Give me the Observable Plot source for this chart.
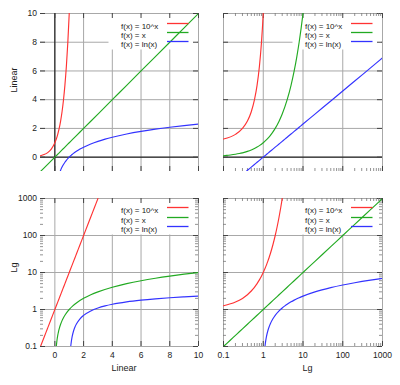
<!DOCTYPE html>
<html><head><meta charset="utf-8">
<script src="https://cdn.jsdelivr.net/npm/d3@7"></script>
<script src="https://cdn.jsdelivr.net/npm/@observablehq/plot@0.6"></script>
<style>
body{margin:0;background:#fff;}
#wrap{position:relative;width:400px;height:385px;overflow:hidden;font-family:"Liberation Sans",Arial,sans-serif;}
#wrap > svg{position:absolute;}
</style></head><body><div id="wrap"></div>
<script>
// ---- data ----
const pow10X = [-1,-0.75,-0.5,-0.25,0,0.1,0.2,0.3,0.4,0.5,0.6,0.7,0.8,0.9,1,1.1,1.2,1.3,1.4,1.5,1.75,2,2.25,2.5,2.75,3];
const pow10Y = [0.1,0.1778,0.3162,0.5623,1,1.2589,1.5849,1.9953,2.5119,3.1623,3.9811,5.0119,6.3096,7.9433,10,12.589,15.849,19.953,25.119,31.623,56.234,100,177.83,316.23,562.34,1000];
const identX = [-1,0,0.1,0.12,0.15,0.2,0.25,0.3,0.4,0.5,0.6,0.7,0.8,1,1.25,1.5,2,2.5,3,4,5,6,7,8,9,10,20,50,100,200,500,1000];
const identY = [-1,0,0.1,0.12,0.15,0.2,0.25,0.3,0.4,0.5,0.6,0.7,0.8,1,1.25,1.5,2,2.5,3,4,5,6,7,8,9,10,20,50,100,200,500,1000];
const lnX = [0.3679,0.4,0.45,0.5,0.6,0.7,0.8,0.9,1,1.105,1.11,1.12,1.15,1.2,1.3,1.4,1.5,1.75,2,2.5,3,3.5,4,5,6,7,8,9,10,20,50,100,200,500,1000];
const lnY = [-1,-0.9163,-0.7985,-0.6931,-0.5108,-0.3567,-0.2231,-0.1054,0,0.0998,0.1044,0.1133,0.1398,0.1823,0.2624,0.3365,0.4055,0.5596,0.6931,0.9163,1.0986,1.2528,1.3863,1.6094,1.7918,1.9459,2.0794,2.1972,2.3026,2.9957,3.9120,4.6052,5.2983,6.2146,6.9078];

const seriesNames = ["f(x) = 10^x", "f(x) = x", "f(x) = ln(x)"];
const seriesColors = ["#ff3333", "#22aa22", "#3333ff"];

const linTicks = [0,2,4,6,8,10];
const logTicks = [0.1,1,10,100,1000];
const logMinor = [0.2,0.3,0.4,0.5,0.6,0.7,0.8,0.9,2,3,4,5,6,7,8,9,20,30,40,50,60,70,80,90,200,300,400,500,600,700,800,900];
const linDomain = [-1,10];
const logDomain = [0.1,1000];
const axisTitles = {lin: "Linear", log: "Lg"};

const zip = (xs, ys) => xs.map((x,i) => ({x, y: ys[i]}));
const series = [zip(pow10X, pow10Y), zip(identX, identY), zip(lnX, lnY)];

const GRID = "#a8a8a8", TICK = "#444", MINOR = "#777", TEXT = "#222";

function panel({left, top, width, height, mL, mR, mT, mB, xLog, yLog, showX, showY, legendDy}) {
  const fw = width - mL - mR, fh = height - mT - mB;
  const xT = xLog ? logTicks : linTicks;
  const yT = yLog ? logTicks : linTicks;
  const marks = [
    Plot.ruleX(xT, {x: d => d, stroke: GRID, strokeWidth: 1}),
    Plot.ruleY(yT, {y: d => d, stroke: GRID, strokeWidth: 1}),
  ];
  if (!yLog) marks.push(Plot.ruleY([0], {y: d => d, stroke: "#000", strokeWidth: 1}));
  if (!xLog && !yLog) marks.push(Plot.ruleX([0], {x: d => d, stroke: "#000", strokeWidth: 1}));
  // legend background (hides the grid)
  marks.push(Plot.frame({fill: "white", stroke: null, insetLeft: fw - 90, insetBottom: fh - 36, insetTop: 1, insetRight: 1.5}));
  // major ticks (inward, mirrored)
  marks.push(
    Plot.tickX(xT, {x: d => d, stroke: TICK, strokeWidth: 1, insetTop: fh - 5}),
    Plot.tickX(xT, {x: d => d, stroke: TICK, strokeWidth: 1, insetBottom: fh - 5}),
    Plot.tickY(yT, {y: d => d, stroke: TICK, strokeWidth: 1, insetRight: fw - 5}),
    Plot.tickY(yT, {y: d => d, stroke: TICK, strokeWidth: 1, insetLeft: fw - 5})
  );
  if (xLog) marks.push(
    Plot.tickX(logMinor, {x: d => d, stroke: MINOR, strokeWidth: 0.8, insetTop: fh - 3}),
    Plot.tickX(logMinor, {x: d => d, stroke: MINOR, strokeWidth: 0.8, insetBottom: fh - 3})
  );
  if (yLog) marks.push(
    Plot.tickY(logMinor, {y: d => d, stroke: MINOR, strokeWidth: 0.8, insetRight: fw - 3}),
    Plot.tickY(logMinor, {y: d => d, stroke: MINOR, strokeWidth: 0.8, insetLeft: fw - 3})
  );
  // curves
  series.forEach((s, i) => marks.push(
    Plot.line(s, {x: "x", y: "y", stroke: seriesColors[i], strokeWidth: 1.15, curve: "monotone-x", clip: true})
  ));
  // legend
  seriesNames.forEach((name, i) => marks.push(
    Plot.text([name], {text: d => d, frameAnchor: "top-right", dx: -77.5, dy: legendDy[i], textAnchor: "start", fontSize: 8, fill: TEXT}),
    Plot.vector([name], {frameAnchor: "top-right", dx: -31.5, dy: legendDy[i], length: 21.5, rotate: 90, anchor: "start", r: 0, stroke: seriesColors[i], strokeWidth: 1.3, strokeLinecap: "butt"})
  ));
  // tick labels and axis titles
  if (showY) {
    marks.push(Plot.axisY({ticks: yT, tickSize: 0, tickPadding: 3.5, tickFormat: d => String(d), fontSize: 8.5, label: null}));
    marks.push(Plot.text([yLog ? axisTitles.log : axisTitles.lin], {text: d => d, frameAnchor: "left", dx: 14 - mL, rotate: -90, fontSize: 9, fill: TEXT}));
  }
  if (showX) {
    marks.push(Plot.axisX({ticks: xT, tickSize: 0, tickPadding: 5, tickFormat: d => String(d), fontSize: 8.5, label: null}));
    marks.push(Plot.text([xLog ? axisTitles.log : axisTitles.lin], {text: d => d, frameAnchor: "bottom", dx: 4.5, dy: 24.5, fontSize: 9, fill: TEXT}));
  }
  const svg = Plot.plot({
    width, height, marginLeft: mL, marginRight: mR, marginTop: mT, marginBottom: mB,
    x: {type: xLog ? "log" : "linear", domain: xLog ? logDomain : linDomain, axis: null},
    y: {type: yLog ? "log" : "linear", domain: yLog ? logDomain : linDomain, axis: null},
    style: {background: "transparent", overflow: "visible", color: TEXT, fontFamily: '"Liberation Sans", Arial, sans-serif'},
    marks
  });
  svg.style.left = left + "px";
  svg.style.top = top + "px";
  document.getElementById("wrap").appendChild(svg);
}

panel({left: 200, top: 0, width: 200, height: 190, mL: 23, mR: 18, mT: 13, mB: 19, xLog: true, yLog: false, showX: false, showY: false, legendDy: [10, 19, 28]});
panel({left: 200, top: 190, width: 200, height: 195, mL: 23, mR: 18, mT: 8, mB: 39, xLog: true, yLog: true, showX: true, showY: false, legendDy: [9, 19, 28]});
panel({left: 0, top: 0, width: 200, height: 190, mL: 40, mR: 2, mT: 13, mB: 19, xLog: false, yLog: false, showX: false, showY: true, legendDy: [10, 19, 28]});
panel({left: 0, top: 190, width: 200, height: 195, mL: 40, mR: 2, mT: 8, mB: 39, xLog: false, yLog: true, showX: true, showY: true, legendDy: [9, 19, 28]});
</script></body></html>
